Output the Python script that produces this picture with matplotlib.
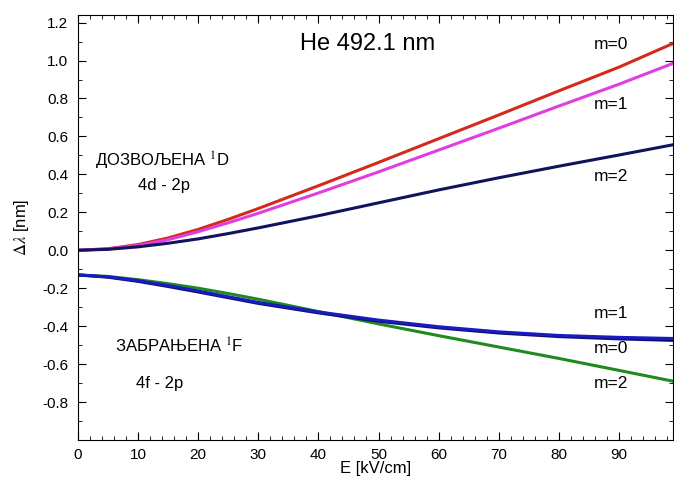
import matplotlib
matplotlib.use("Agg")
import matplotlib.pyplot as plt
import numpy as np
from matplotlib.ticker import MultipleLocator

plt.rcParams['font.family'] = ['Liberation Sans', 'DejaVu Sans']
plt.rcParams['mathtext.fontset'] = 'stix'

E = [0, 5, 10, 15, 20, 25, 30, 40, 50, 60, 70, 80, 90, 99]
up_m0 = [0.0, 0.008, 0.03, 0.065, 0.11, 0.163, 0.22, 0.34, 0.463, 0.588, 0.713, 0.84, 0.965, 1.09]
up_m1 = [0.0, 0.007, 0.025, 0.056, 0.098, 0.145, 0.195, 0.302, 0.413, 0.528, 0.643, 0.76, 0.875, 0.985]
up_m2 = [0.0, 0.005, 0.018, 0.037, 0.06, 0.088, 0.118, 0.182, 0.25, 0.318, 0.382, 0.443, 0.502, 0.556]
lo_m2 = [-0.13, -0.138, -0.155, -0.176, -0.20, -0.228, -0.258, -0.323, -0.388, -0.45, -0.51, -0.57, -0.633, -0.69]
lo_m1 = [-0.13, -0.14, -0.16, -0.186, -0.215, -0.245, -0.275, -0.325, -0.368, -0.403, -0.43, -0.449, -0.459, -0.465]
lo_m0 = [-0.13, -0.142, -0.164, -0.191, -0.22, -0.25, -0.28, -0.33, -0.374, -0.409, -0.436, -0.455, -0.467, -0.475]

yticks = [-0.8, -0.6, -0.4, -0.2, 0.0, 0.2, 0.4, 0.6, 0.8, 1.0, 1.2]
xticks = [0, 10, 20, 30, 40, 50, 60, 70, 80, 90]

fig = plt.figure(figsize=(6.74, 4.79), dpi=100)
ax = fig.add_axes([78/674, 39/479, 595/674, 425/479])

ax.plot(E, up_m0, color='#d42a1e', lw=2.2)
ax.plot(E, up_m1, color='#e03ee0', lw=2.2)
ax.plot(E, up_m2, color='#12125e', lw=2.2)
ax.plot(E, lo_m2, color='#1f8a1f', lw=2.2)
ax.plot(E, lo_m0, color='#101070', lw=2.2)
ax.plot(E, lo_m1, color='#1a1ac0', lw=2.2)

ax.set_xlim(0, 99)
ax.set_ylim(-1.0, 1.24)
ax.set_xticks(xticks)
ax.set_yticks(yticks)
ax.set_yticklabels([f"{v:.1f}" for v in yticks])
ax.xaxis.set_minor_locator(MultipleLocator(2))
ax.yaxis.set_minor_locator(MultipleLocator(0.1))
ax.tick_params(which='both', direction='in', top=True, right=True, labelsize=11)
ax.tick_params(which='major', length=6)
ax.tick_params(which='minor', length=3)
ax.tick_params(axis='y', pad=7)
ax.tick_params(axis='x', pad=6)

ax.set_xlabel('E [kV/cm]', fontsize=12, labelpad=-1)
ax.set_ylabel(r'$\Delta\lambda$ [nm]', fontsize=12, labelpad=8)

ax.text(48.2, 1.085, 'He 492.1 nm', fontsize=17, ha='center', va='center')
for x, y, s in [(88.7, 1.085, 'm=0'), (88.7, 0.77, 'm=1'), (88.7, 0.39, 'm=2'),
                (88.7, -0.335, 'm=1'), (88.7, -0.52, 'm=0'), (88.7, -0.70, 'm=2')]:
    ax.text(x, y, s, fontsize=12.5, ha='center', va='center')

ax.text(2.8, 0.47, 'ДОЗВОЉЕНА $^1$D', fontsize=12, ha='left', va='center')
ax.text(14.3, 0.344, '4d - 2p', fontsize=12, ha='center', va='center')
ax.text(6.2, -0.505, 'ЗАБРАЊЕНА $^1$F', fontsize=12, ha='left', va='center')
ax.text(13.5, -0.70, '4f - 2p', fontsize=12, ha='center', va='center')

fig.savefig('out.png', dpi=100)
